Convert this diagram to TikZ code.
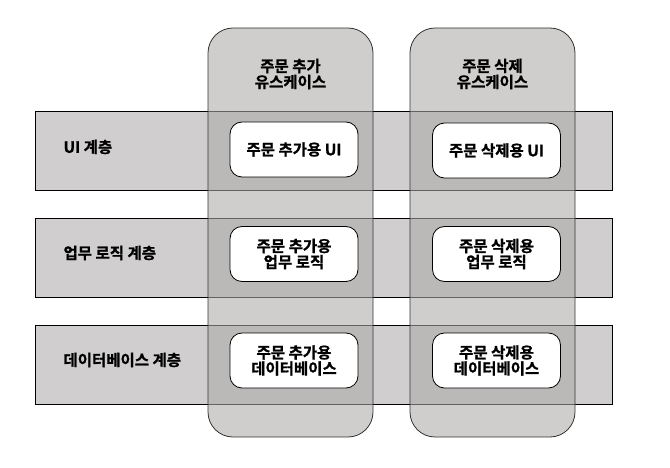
\documentclass[tikz,border=0pt]{standalone}
\usepackage{fontspec}
\setmainfont{Noto Sans CJK KR}[BoldFont={Noto Sans CJK KR Bold}, BoldFeatures={FakeBold=1}]
\definecolor{layergray}{RGB}{208,206,207}
\definecolor{casegray}{RGB}{172,170,168}
\begin{document}
\begin{tikzpicture}[
		x=1pt, y=-1pt,
		font=\fontsize{15.5}{16}\selectfont\bfseries,
		layer/.style={draw=black, fill=layergray, line width=0.8pt, minimum width=577pt, minimum height=79pt, inner sep=0pt},
		usecase/.style={draw=black!80, fill=casegray, fill opacity=0.58, line width=0.8pt, rounded corners=25pt, minimum width=165pt, minimum height=409pt, inner sep=0pt},
		part/.style={draw=black, fill=white, line width=0.8pt, rounded corners=12pt, minimum width=128pt, minimum height=55pt, inner sep=0pt, align=center}
	]
	\useasboundingbox (0,0) rectangle (670,468);
	% layers
	\node[layer] (uiLayer) at (323.5,150.5) {};
	\node[layer] (bizLayer) at (323.5,257.5) {};
	\node[layer] (dbLayer) at (323.5,364.5) {};
	\node[anchor=west] (uiLabel) at (60,147) {UI 계층};
	\node[anchor=west] (bizLabel) at (60,253) {업무 로직 계층};
	\node[anchor=west] (dbLabel) at (60,360) {데이터베이스 계층};
	% use cases
	\node[usecase] (addCase) at (290.5,232.5) {};
	\node[usecase] (delCase) at (492.5,232.5) {};
	\node[align=center] (addTitle) at (290.5,74) {주문 추가\\유스케이스};
	\node[align=center] (delTitle) at (492.5,74) {주문 삭제\\유스케이스};
	% parts
	\node[part] (addUi) at (294,149.5) {주문 추가용 UI};
	\node[part] (addBiz) at (294,254) {주문 추가용\\업무 로직};
	\node[part] (addDb) at (294,360.5) {주문 추가용\\데이터베이스};
	\node[part] (delUi) at (496.5,150.5) {주문 삭제용 UI};
	\node[part] (delBiz) at (496.5,254) {주문 삭제용\\업무 로직};
	\node[part] (delDb) at (496.5,360.5) {주문 삭제용\\데이터베이스};
\end{tikzpicture}
\end{document}
